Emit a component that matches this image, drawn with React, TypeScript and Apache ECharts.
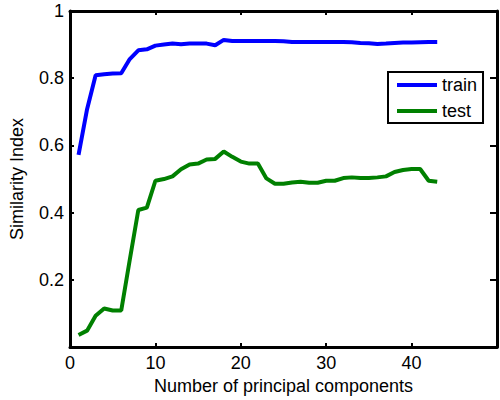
import React, { useEffect, useRef } from "react";
import * as echarts from "echarts";

const components = [1,2,3,4,5,6,7,8,9,10,11,12,13,14,15,16,17,18,19,20,21,22,23,24,25,26,27,28,29,30,31,32,33,34,35,36,37,38,39,40,41,42,43];
const trainValues = [0.572,0.708,0.809,0.812,0.814,0.815,0.857,0.883,0.886,0.897,0.900,0.903,0.901,0.903,0.903,0.903,0.898,0.914,0.911,0.911,0.911,0.911,0.911,0.911,0.910,0.908,0.908,0.908,0.908,0.908,0.908,0.908,0.907,0.905,0.904,0.902,0.903,0.905,0.906,0.906,0.907,0.908,0.908];
const testValues = [0.036,0.049,0.093,0.115,0.109,0.109,0.260,0.408,0.415,0.495,0.500,0.508,0.529,0.543,0.546,0.558,0.560,0.582,0.566,0.552,0.546,0.546,0.502,0.486,0.486,0.490,0.492,0.489,0.489,0.495,0.495,0.503,0.505,0.503,0.503,0.505,0.508,0.521,0.527,0.530,0.530,0.495,0.492];
const seriesNames = ["train", "test"];
const xTitle = "Number of principal components";
const yTitle = "Similarity Index";

const FONT = "Liberation Sans, Arial, Helvetica, sans-serif";

export default function App() {
  const ref = useRef<HTMLDivElement>(null);
  useEffect(() => {
    if (!ref.current) return;
    const chart = echarts.init(ref.current, null, { renderer: "svg" });
    const axisLine = { show: true, onZero: false, lineStyle: { color: "#000", width: 3 } };
    const tick = (len: number) => ({ show: true, inside: true, length: len, lineStyle: { color: "#000", width: 2 } });
    chart.setOption({
      animation: false,
      backgroundColor: "#fff",
      grid: { left: 68, top: 11, width: 437.5, height: 340, containLabel: false },
      legend: {
        data: seriesNames,
        orient: "vertical",
        left: 388,
        top: 72,
        icon: "rect",
        itemWidth: 40,
        itemHeight: 4,
        itemGap: 6,
        padding: [3, 6, 2, 9],
        borderColor: "#000",
        borderWidth: 2,
        backgroundColor: "#fff",
        textStyle: { fontSize: 18, color: "#000", fontFamily: FONT, lineHeight: 20 },
      },
      xAxis: [
        {
          type: "value", min: 0, max: 50, interval: 10, position: "bottom",
          axisLine, axisTick: tick(4), splitLine: { show: false },
          axisLabel: { fontSize: 18, color: "#000", fontFamily: FONT, margin: 7, formatter: (v: number) => (v === 50 ? "" : String(v)) },
          name: xTitle, nameLocation: "middle", nameGap: 27,
          nameTextStyle: { fontSize: 18, color: "#000", fontFamily: FONT },
        },
        {
          type: "value", min: 0, max: 50, interval: 10, position: "top",
          axisLine, axisTick: tick(4), splitLine: { show: false }, axisLabel: { show: false },
        },
      ],
      yAxis: [
        {
          type: "value", min: 0, max: 1, interval: 0.2, position: "left",
          axisLine, axisTick: tick(4), splitLine: { show: false },
          axisLabel: { fontSize: 18, color: "#000", fontFamily: FONT, margin: 6, formatter: (v: number) => (v === 0 ? "" : String(Math.round(v * 10) / 10)) },
          name: yTitle, nameLocation: "middle", nameGap: 44,
          nameTextStyle: { fontSize: 18, color: "#000", fontFamily: FONT },
        },
        {
          type: "value", min: 0, max: 1, interval: 0.2, position: "right",
          axisLine, axisTick: tick(7), splitLine: { show: false }, axisLabel: { show: false },
        },
      ],
      series: [
        {
          name: seriesNames[0], type: "line", xAxisIndex: 0, yAxisIndex: 0,
          data: components.map((c, i) => [c, trainValues[i]]),
          showSymbol: false, symbol: "none",
          lineStyle: { color: "#0000ff", width: 4 }, itemStyle: { color: "#0000ff" },
        },
        {
          name: seriesNames[1], type: "line", xAxisIndex: 0, yAxisIndex: 0,
          data: components.map((c, i) => [c, testValues[i]]),
          showSymbol: false, symbol: "none",
          lineStyle: { color: "#008000", width: 4 }, itemStyle: { color: "#008000" },
        },
      ],
    });
    return () => chart.dispose();
  }, []);
  return <div ref={ref} style={{ position: "absolute", left: 0, top: 0, width: 500, height: 400 }} />;
}
